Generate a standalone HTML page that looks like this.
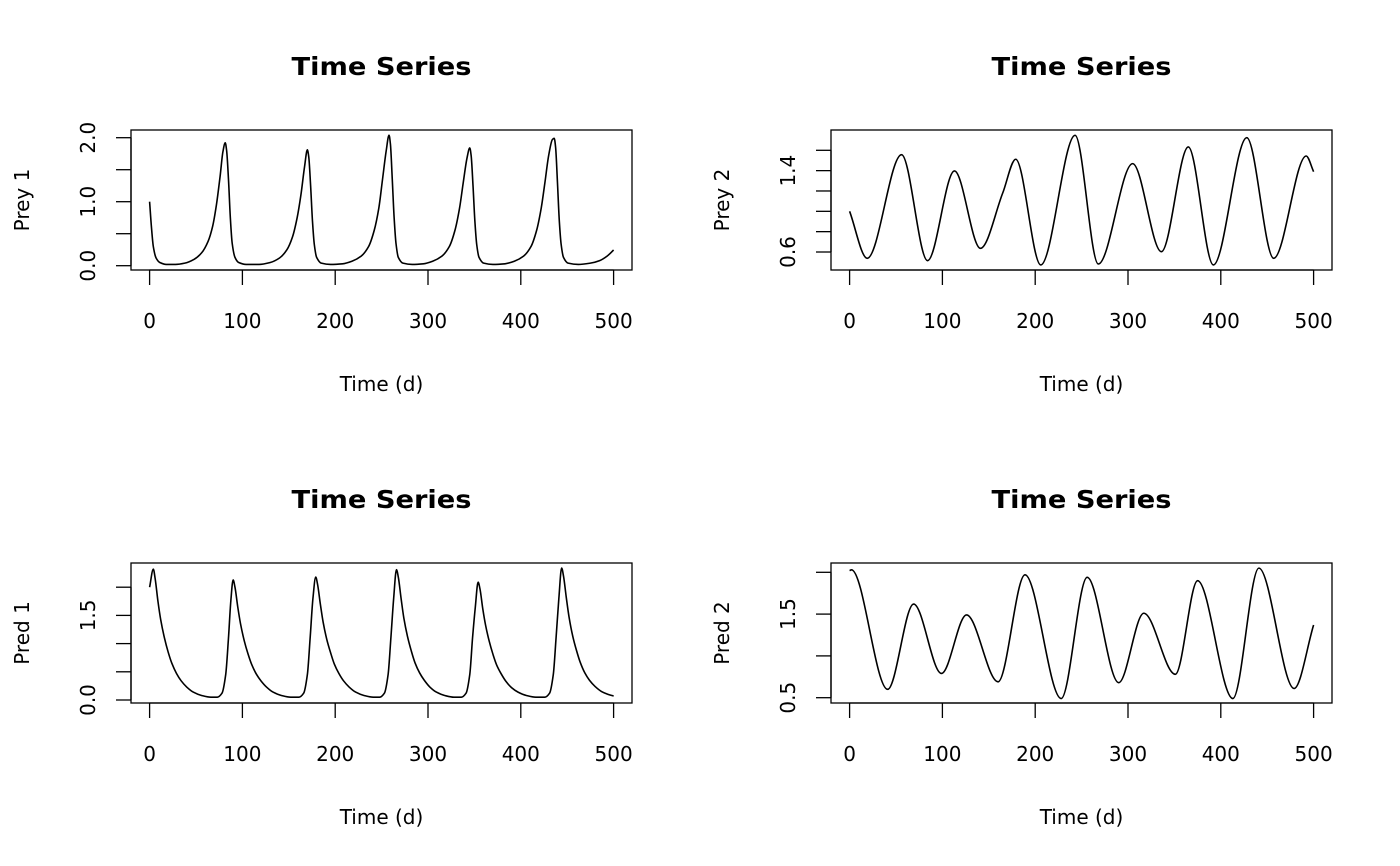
<!DOCTYPE html>
<html><head><meta charset="utf-8"><style>
body{margin:0;background:#fff}
svg{display:block;font-family:"DejaVu Sans","Liberation Sans",sans-serif}
</style></head><body>
<svg id="c" width="1400" height="866" viewBox="0 0 1400 866"></svg>
<script>
const xTicks=[0,100,200,300,400,500];
const prey1=[[0,1.0],[2,0.6],[4,0.3],[7,0.12],[11,0.05],[18,0.02],[28,0.02],[38,0.04],[48,0.1],[56,0.2],[63,0.38],[68,0.62],[72,0.95],[76,1.4],[79,1.78],[81.5,1.92],[83,1.8],[85,1.35],[87,0.75],[89,0.35],[92,0.13],[96,0.05],[104,0.02],[118,0.02],[130,0.05],[140,0.12],[148,0.25],[154,0.45],[159,0.75],[163,1.1],[167,1.55],[170,1.81],[171.5,1.7],[173.5,1.25],[175.5,0.7],[177.5,0.33],[180,0.13],[185,0.04],[195,0.02],[208,0.03],[218,0.07],[228,0.15],[236,0.3],[242,0.55],[247,0.9],[251,1.35],[255,1.8],[258,2.04],[259.5,1.9],[261.5,1.35],[263.5,0.75],[265.5,0.35],[268,0.13],[273,0.04],[283,0.02],[295,0.03],[305,0.07],[315,0.15],[323,0.3],[329,0.55],[334,0.9],[338,1.3],[342,1.68],[345,1.84],[346.5,1.72],[348.5,1.25],[350.5,0.7],[352.5,0.33],[355,0.13],[360,0.04],[370,0.02],[383,0.03],[393,0.07],[403,0.15],[411,0.3],[417,0.55],[422,0.9],[426,1.3],[430,1.72],[434,1.97],[436,1.99],[437.5,1.85],[439.5,1.3],[441.5,0.7],[443.5,0.33],[446,0.13],[451,0.04],[462,0.02],[475,0.04],[485,0.08],[493,0.15],[500,0.245]];
const prey2=[[0,1.0],[19,0.538],[56,1.557],[84,0.515],[113,1.397],[141,0.636],[165,1.18],[179,1.512],[206,0.473],[243,1.747],[268,0.482],[305,1.469],[336,0.603],[365,1.633],[392,0.473],[428,1.724],[457,0.538],[492,1.544],[500,1.39]];
const pred1=[[0,2.0],[4,2.32],[6,2.15],[9,1.75],[12,1.42],[16,1.1],[20,0.85],[24,0.65],[29,0.47],[34,0.34],[40,0.23],[47,0.14],[56,0.08],[66,0.05],[73,0.05],[78,0.12],[82,0.45],[85,1.1],[87.5,1.75],[90,2.13],[92,2.0],[95,1.65],[98,1.35],[102,1.05],[106,0.82],[110,0.63],[115,0.46],[120,0.34],[126,0.23],[133,0.14],[142,0.08],[152,0.05],[161,0.05],[166,0.12],[170,0.45],[173,1.1],[176,1.8],[179,2.18],[181,2.05],[184,1.7],[187,1.38],[191,1.07],[195,0.84],[199,0.64],[204,0.47],[209,0.34],[215,0.23],[222,0.14],[231,0.08],[241,0.05],[248,0.05],[253,0.12],[257,0.45],[260,1.1],[263,1.8],[266,2.31],[268,2.18],[271,1.8],[274,1.45],[278,1.12],[282,0.87],[286,0.66],[291,0.48],[296,0.35],[302,0.23],[309,0.14],[318,0.08],[328,0.05],[336,0.05],[341,0.12],[345,0.45],[348,1.1],[351,1.65],[354,2.09],[356,1.97],[359,1.62],[362,1.33],[366,1.04],[370,0.81],[374,0.62],[379,0.46],[384,0.33],[390,0.22],[397,0.14],[406,0.08],[416,0.05],[426,0.05],[431,0.12],[435,0.45],[438,1.1],[441,1.8],[444,2.34],[446,2.2],[449,1.82],[452,1.47],[456,1.13],[460,0.88],[464,0.67],[469,0.48],[474,0.35],[480,0.24],[487,0.15],[494,0.1],[500,0.07]];
const pred2=[[0,2.02],[2,2.03],[41,0.6],[69,1.62],[99,0.79],[126,1.49],[160,0.69],[189,1.97],[228,0.49],[256,1.94],[290,0.68],[317,1.51],[351,0.78],[375,1.9],[413,0.49],[441,2.05],[479,0.61],[500,1.37]];
const yTicks1=[0,0.5,1,1.5,2], yLabels1=["0.0","","1.0","","2.0"];
const yTicks2=[0.6,0.8,1.0,1.2,1.4,1.6], yLabels2=["0.6","","","","1.4",""];
const yTicks3=[0,0.5,1,1.5,2], yLabels3=["0.0","","","1.5",""];
const yTicks4=[0.5,1,1.5,2], yLabels4=["0.5","","1.5",""];

const NS="http://www.w3.org/2000/svg";
const svg=document.getElementById('c');
function mk(tag,attrs,parent){const e=document.createElementNS(NS,tag);for(const k in attrs)e.setAttribute(k,attrs[k]);(parent||svg).appendChild(e);return e;}
function monoPath(pts){
  const n=pts.length;const d=[],m=[];
  for(let i=0;i<n-1;i++)d.push((pts[i+1][1]-pts[i][1])/(pts[i+1][0]-pts[i][0]));
  for(let i=0;i<n;i++){
    if(i===0)m.push(d[0]);else if(i===n-1)m.push(d[n-2]);
    else if(d[i-1]*d[i]<=0)m.push(0);else{m.push(2/(1/d[i-1]+1/d[i]));}
  }
  let s="M"+pts[0][0].toFixed(2)+","+pts[0][1].toFixed(2);
  for(let i=0;i<n-1;i++){
    const h=pts[i+1][0]-pts[i][0];
    s+=" C"+(pts[i][0]+h/3).toFixed(2)+","+(pts[i][1]+m[i]*h/3).toFixed(2)+" "+(pts[i+1][0]-h/3).toFixed(2)+","+(pts[i+1][1]-m[i+1]*h/3).toFixed(2)+" "+pts[i+1][0].toFixed(2)+","+pts[i+1][1].toFixed(2);
  }
  return s;
}
function panel(cfg){
  const g=mk('g',{});
  
  
  const L=cfg.left,R=L+501,T=cfg.top,B=T+140;
  const xs=t=>L+18.6+t*0.928;
  const ys=cfg.ys;
  const t=mk('text',{x:(L+R)/2,y:T-55,'text-anchor':'middle','font-size':25,'font-weight':'bold',fill:'#000',textLength:180,lengthAdjust:'spacingAndGlyphs'},g);
  t.textContent='Time Series';
  
  
  const box=mk('rect',{x:L,y:T,width:501,height:140,fill:'none',stroke:'#000','stroke-width':1.3},g);
  
  
  const xa=mk('g',{},g);
  
  
  mk('line',{x1:xs(xTicks[0]),x2:xs(xTicks[xTicks.length-1]),y1:B,y2:B,stroke:'#000','stroke-width':1.3},xa);
  xTicks.forEach(v=>{
    mk('line',{x1:xs(v),x2:xs(v),y1:B,y2:B+15,stroke:'#000','stroke-width':1.3},xa);
    const tx=mk('text',{x:xs(v),y:B+58,'text-anchor':'middle','font-size':20,fill:'#000'},xa);
    tx.textContent=String(v);
    
    
  });
  const xl=mk('text',{x:(L+R)/2,y:B+121,'text-anchor':'middle','font-size':20,fill:'#000'},g);
  xl.textContent='Time (d)';
  
  
  const ya=mk('g',{},g);
  
  
  const yt=cfg.yTicks;
  mk('line',{x1:L,x2:L,y1:ys(yt[0]),y2:ys(yt[yt.length-1]),stroke:'#000','stroke-width':1.3},ya);
  yt.forEach((v,i)=>{
    mk('line',{x1:L-15,x2:L,y1:ys(v),y2:ys(v),stroke:'#000','stroke-width':1.3},ya);
    if(cfg.yLabels[i]){
      const X=L-43,Y=ys(v);
      const tx=mk('text',{x:X,y:Y,'text-anchor':'middle','font-size':20,fill:'#000',transform:`rotate(-90 ${X} ${Y})`,dy:'0.35em'},ya);
      tx.textContent=cfg.yLabels[i];
      
      
    }
  });
  const X=L-109,Y=(T+B)/2;
  const yl=mk('text',{x:X,y:Y,'text-anchor':'middle','font-size':20,fill:'#000',transform:`rotate(-90 ${X} ${Y})`,dy:'0.35em'},g);
  yl.textContent=cfg.ylab;
  
  
  const pts=cfg.data.map(p=>[xs(p[0]),ys(p[1])]);
  const line=mk('path',{d:monoPath(pts),fill:'none',stroke:'#000','stroke-width':1.6,'stroke-linejoin':'round'},g);
  
  
}
panel({name:'prey1-panel',left:131,top:130,ylab:'Prey 1',data:prey1,yTicks:yTicks1,yLabels:yLabels1,ys:v=>265.7-v*64});
panel({name:'prey2-panel',left:831,top:130,ylab:'Prey 2',data:prey2,yTicks:yTicks2,yLabels:yLabels2,ys:v=>252-(v-0.6)*101.7});
panel({name:'pred1-panel',left:131,top:563,ylab:'Pred 1',data:pred1,yTicks:yTicks3,yLabels:yLabels3,ys:v=>700-v*56.4});
panel({name:'pred2-panel',left:831,top:563,ylab:'Pred 2',data:pred2,yTicks:yTicks4,yLabels:yLabels4,ys:v=>697.7-(v-0.5)*83.6});
</script>
</body></html>
